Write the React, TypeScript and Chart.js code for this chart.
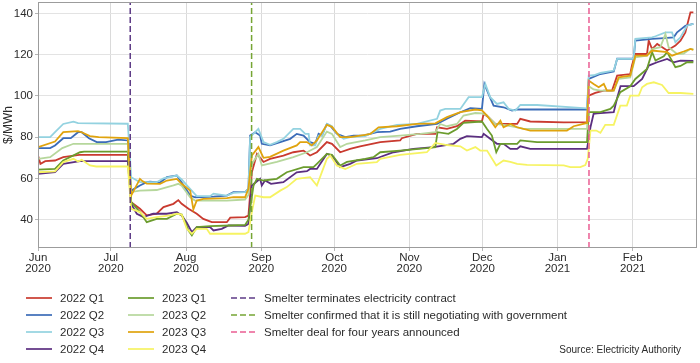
import React, { useEffect, useRef } from "react";
import { Chart, registerables } from "chart.js";

Chart.register(...registerables);

type Pt = [number, number];

// x values are days counted from 1 June 2020 (day 0)
const X_START_DATE = "2020-06-01";
const MONTH_DAYS = [0, 30, 61, 92, 122, 153, 183, 214, 245];
const MONTH_LABELS = ["Jun", "Jul", "Aug", "Sep", "Oct", "Nov", "Dec", "Jan", "Feb"];
const MONTH_YEARS = ["2020", "2020", "2020", "2020", "2020", "2020", "2020", "2021", "2021"];
const Y_TICKS = [40, 60, 80, 100, 120, 140];
const X_RANGE = [0, 271.5];
const Y_RANGE = [26.3, 145.5];
const Y_TITLE = "$/MWh";
const SOURCE_TEXT = "Source: Electricity Authority";

const SERIES_NAMES = ["2022 Q1", "2022 Q2", "2022 Q3", "2022 Q4", "2023 Q1", "2023 Q2", "2023 Q3", "2023 Q4"];
const SERIES_COLORS = ["#c93a2f", "#3b6cb8", "#93d2e0", "#5b2e80", "#6b9c2d", "#b6d79c", "#e0a30d", "#f6f362"];

const p2022Q1: Pt[] = [[0,71.1],[1,67.1],[3,68.4],[7,68.7],[10.4,70.3],[17,71.4],[37,71.4],[38.4,48.5],[42,45.3],[44.8,42.1],[48.9,42.9],[51.7,46.1],[55.8,47.7],[57.8,49.5],[59.2,47.7],[62,45.3],[65.4,42.9],[68.1,40.4],[71.6,38.8],[77.8,38.8],[79.2,41],[85.3,41.3],[86.7,42],[88.1,63],[90.2,71.9],[92.9,68],[95.6,69.5],[101.1,71.1],[105.2,72.7],[109.4,73.5],[112.1,71.1],[114.9,72.7],[119,77.6],[121.1,76.8],[124.5,72.7],[128.6,74.3],[132.7,75.6],[141,77.6],[149.2,78.4],[149.9,79.5],[156.1,81.6],[163.7,81.6],[164.4,84.8],[168.5,84],[172.6,85.3],[176,88],[182.9,87.6],[183.6,91.3],[185.6,89.7],[188.4,86.4],[197.4,86.4],[198.7,88.9],[202.8,87.6],[216.6,87.2],[226.2,87.3],[226.9,100.1],[229.6,101.5],[233.1,102.6],[236.5,102.6],[238.6,109.8],[244,110.6],[244.7,114.7],[246.1,120.3],[250.9,120.3],[251.6,126.8],[253,122.7],[255.1,125.2],[259.2,122],[262.6,124.4],[264.7,126.8],[266.7,130.8],[268.8,140.5],[270,140.5]];
const p2022Q2: Pt[] = [[0,74.7],[5,74.7],[7,76],[10.4,79.5],[13.5,79.5],[16.5,82.4],[18,82.4],[21,79.5],[24.2,77.6],[28,77.6],[33,78.8],[37,78.4],[38.4,54.1],[42,56.6],[44.8,58.2],[46.2,58.5],[50.3,58],[53.1,60.6],[57.2,61.4],[59.2,58],[62.7,51.7],[64.7,50.9],[72.3,51.2],[77.8,51.7],[80.5,53.4],[85.3,53.4],[86.7,55],[87.4,80.8],[89.5,82.4],[91.5,80.8],[92.2,76.8],[95.6,76],[99.8,77.6],[103.9,79.2],[106.6,81.6],[109.4,80.8],[112.1,77.6],[114.2,76.8],[115.6,81.6],[117,80.8],[119,86.4],[120.4,85.6],[123.1,81.6],[126.6,80],[130,80.8],[134.1,80.8],[139.6,82.4],[145.1,82.7],[149.2,84],[156.1,85.3],[164.4,86.4],[168.5,88.9],[174,92.1],[178.1,94],[182.9,93.7],[183.9,105.8],[185.6,101],[187.7,95.3],[191.8,94.5],[195.3,92.9],[197.4,93.5],[226.2,93.4],[226.9,108.2],[231.7,110.6],[237.2,111.8],[238.6,118],[245.4,118],[246.1,126.8],[253,127.6],[256.4,127.9],[261.9,128.4],[263.3,130.8],[266.7,134],[270,134.9]];
const p2022Q3: Pt[] = [[0,80],[5,80],[7,82.4],[10.4,86.4],[14.6,87.5],[16.5,86.8],[37,86.5],[38.4,60.6],[42,58.2],[48.9,58.2],[51.7,60.1],[57.2,61.4],[59.2,59.5],[62,55.8],[65.4,51.4],[70.9,51.4],[72.3,52.6],[77.8,51.7],[80.5,53],[85.3,53.4],[86.7,55],[87.4,80],[90.8,84],[92.9,77.6],[95.6,76.3],[98.4,77.6],[101.1,79.2],[105.2,84],[108,84],[110.1,81.6],[111.5,81.6],[112.1,76],[114.2,76],[115.6,80.8],[117,80.8],[119,86.4],[121.1,85.3],[123.1,81.6],[125.9,79.2],[128.6,80],[134.8,80.5],[141,84],[147.9,86],[156.1,86.4],[164.4,88.9],[165.7,92.9],[167.8,93.7],[174,93.7],[177.4,99.4],[182.9,99.4],[184.3,105.8],[186.3,99.4],[189.1,96.1],[191.8,96.9],[193.9,93.7],[196.7,92.9],[198.7,95.6],[205.6,95.6],[226.2,94],[226.9,109.8],[229,110],[231.7,111.1],[237.2,112.3],[238.6,117.9],[245.4,117.9],[246.1,127.6],[253,128.4],[254.4,128.9],[258.5,130.8],[261.2,130.8],[262.6,126],[264.7,128.4],[267.4,134],[270,134.9]];
const p2022Q4: Pt[] = [[0,62.2],[7,63],[10.4,67.1],[17.3,68.4],[37,68.4],[38.4,47.7],[40.7,42.9],[43.4,41.3],[47.5,42.9],[53.1,42.9],[57.2,43.7],[59.2,42.1],[61.3,38.5],[63.4,34],[65.4,36.4],[70.9,36.4],[72.3,34.8],[75.7,35.6],[78.5,37.2],[85.3,37],[86.7,38],[88.1,56.6],[91.5,59.8],[92.2,56.6],[93.5,59],[96,57.4],[101.1,58.2],[106.6,63],[110.8,63.5],[112.1,64.6],[114.9,64.6],[119,71.9],[121.1,71.1],[124.5,65.5],[128.6,67.1],[131.4,68.7],[139.6,69.8],[146.5,72.7],[154.7,74.3],[163,75.2],[171.2,76.8],[174,79.2],[176.7,80.5],[182.9,80],[183.6,81.6],[186.3,79.2],[189.1,76.8],[191.8,76.8],[194.6,74.3],[197.4,74.3],[198.7,75.6],[202.8,74.3],[226.2,74.3],[227.6,84.8],[228.9,91.3],[230.3,91.5],[237.2,92.1],[238.6,99],[240,104.7],[245.4,104.7],[248.9,108.2],[251.6,114.7],[255.1,116.3],[259.2,117.9],[261.9,116.3],[264.7,117.1],[270,117]];
const p2023Q1: Pt[] = [[0,64.3],[7,64.6],[10.4,68.7],[17.3,72.7],[19,73],[37,73],[38.4,48.5],[42,43.7],[44.8,38.8],[48.9,40.4],[53.1,40.4],[57.2,42.9],[59.2,42.5],[62,34.8],[63.4,32.4],[65.4,36.4],[70.9,36.9],[79.2,37.2],[85.3,37.5],[86.7,40],[88.8,56.6],[90.2,59.8],[92.9,59],[98.4,59.8],[102.5,63],[109.4,65.5],[113.5,65.5],[114.9,67.1],[119,71.9],[121.1,71.5],[124.5,66.3],[127.3,68],[134.8,69.5],[138.2,70.3],[141,72.7],[149.2,73.5],[160.2,74.7],[163.7,75.2],[164.6,82.4],[169.1,81.6],[172.6,84],[175.3,86.9],[182.9,87.6],[185,84],[187,80.8],[188.8,72.7],[190.5,76.8],[197.4,76.8],[198.7,78.4],[205.6,77.6],[226.2,77.6],[226.9,92.1],[231.7,92.1],[235.8,93.7],[237.2,95.3],[239.9,101.8],[244,104.7],[246.1,108.2],[250.9,113.1],[253,121.2],[254.4,117.1],[257.8,119.2],[259.2,121.2],[262.6,113.9],[264.7,114.5],[267.4,116.3],[270,116.3]];
const p2023Q2: Pt[] = [[0,69.5],[5,70.3],[10,74.7],[14.6,76.8],[37,76.8],[38.4,53.4],[42,54.1],[48.9,54.4],[55.8,56.6],[57.8,57.4],[59.2,56.5],[62.7,50.9],[64.7,49.3],[77.8,49.3],[85.3,49.8],[86.7,52],[88.1,67],[90.8,71.9],[92.2,66.3],[98.4,68],[105.2,70.3],[110.8,72.7],[114.9,75.2],[119,82.7],[121.1,81.6],[124.5,75.2],[127.3,76.8],[134.8,78.4],[141,80],[149.2,80.8],[157.5,81.6],[163.7,82.4],[165.7,86.4],[168.5,85.3],[172.6,86.4],[175.3,90.5],[180.2,91.7],[182.9,91.5],[185,90.5],[188.4,86.4],[191.8,86],[197.4,84.8],[200.1,84],[226.2,84],[226.9,104.7],[228.9,103.1],[231.7,102.6],[237.2,102.6],[239.2,108.2],[244,109],[246.1,118.7],[250.9,119.5],[253,122.7],[256.4,123.6],[258.5,130],[259.8,123.6],[263.3,120.3],[266,120.5],[268.8,122.8],[270,122.5]];
const p2023Q3: Pt[] = [[0,75.2],[7,77.9],[10.4,82.4],[16.5,82.9],[18,82.4],[21.4,80.5],[25,80],[37,79.5],[38.4,51.7],[42,59.8],[43,58.7],[44.8,57.5],[50.3,57.4],[53.1,59],[57.2,59.8],[59.2,57.4],[62.7,54.1],[64,45],[65.4,49.3],[68.1,50.1],[77.8,50.5],[80.5,50.9],[85.3,50.9],[86.7,55],[88.1,71.1],[90.8,75.2],[92.9,70],[95.6,70.5],[101.1,73.5],[106.6,76],[108,77.6],[110.8,77.6],[112.8,76],[114.9,78.4],[119,86],[121.1,85],[124.5,80],[128.6,80],[134.8,81.1],[136.9,81.6],[140.3,84.8],[147.9,85.3],[156.1,86.4],[163.7,86.7],[168.5,89.7],[174,92.1],[180.2,93.4],[182.9,93],[185,90.5],[188.4,84.8],[190.5,88],[191.8,84.8],[194.6,86.4],[197.4,84.8],[202.8,83.2],[217.9,83.2],[220.7,85.3],[226.2,86.9],[226.9,107.4],[228.9,105.8],[231,104.2],[233.1,105.8],[234.4,102.6],[237.2,102.6],[239.2,109],[244,109.8],[246.1,119.5],[250.9,119.5],[253,122],[259.2,121.2],[261.2,119.5],[266,121.5],[268.8,122.8],[270,122.3]];
const p2023Q4: Pt[] = [[0,63],[7,63.4],[10.4,67.9],[14.6,69.5],[16.5,68.2],[18,69],[21.4,66.3],[24,65.8],[37,65.8],[38.4,45.3],[42,43.7],[44.8,40.4],[48.9,41.3],[54.4,42.1],[57.2,42.9],[59.2,42.5],[61.3,35.6],[63.4,33.2],[65.4,35.6],[69.5,35.6],[70.9,33.2],[85.3,33.2],[86.7,34],[88.1,43.7],[89.5,51.7],[92.9,50.9],[95.6,50.9],[99.8,54.1],[102.5,55.8],[106.6,59.8],[112.1,60.6],[114.9,56.6],[119,69.5],[120.4,71.1],[123.1,66.3],[126.6,64.6],[131.4,67.1],[139.6,67.9],[141,69.5],[149.2,71.4],[160.2,72.7],[163.7,77.2],[168.5,76.2],[174,75.6],[176.7,73.5],[180.2,75.2],[182.2,73.5],[185,73.5],[188.8,66.3],[191.8,68.7],[194.6,68],[197.4,67.1],[201.5,66.6],[216.6,66.3],[219.3,65.5],[223.4,65.5],[225.5,66.5],[226.5,69.5],[227.6,83.2],[230,83.2],[231.7,82.1],[233.7,86],[237.2,86],[239.9,95.3],[242.6,95.3],[244,100.1],[247.5,100.1],[248.9,104.2],[250.9,105.8],[253.7,106.6],[257.1,105.3],[259.8,101.4],[264.7,101.4],[270,101]];

const SERIES_DATA: Pt[][] = [p2022Q1, p2022Q2, p2022Q3, p2022Q4, p2023Q1, p2023Q2, p2023Q3, p2023Q4];

// Events: 9 Jul 2020, 28 Aug 2020, 14 Jan 2021 (days after 1 June 2020)
const EVENT_DAYS = [38, 88, 227];
const EVENT_NAMES = [
  "Smelter terminates electricity contract",
  "Smelter confirmed that it is still negotiating with government",
  "Smelter deal for four years announced",
];
const EVENT_COLORS = ["#5e3b86", "#76a534", "#ea5e93"];

const FONT = "'Liberation Sans', Arial, Helvetica, sans-serif";
const TEXT_COLOR = "#2b2b2b";

const panelBorder = {
  id: "panelBorder",
  afterDatasetsDraw(chart: any) {
    const { ctx, chartArea: a } = chart;
    ctx.save();
    ctx.strokeStyle = "#9c9c9c";
    ctx.lineWidth = 1;
    ctx.strokeRect(Math.round(a.left) + 0.5, Math.round(a.top) + 0.5, Math.round(a.right - a.left) - 1, Math.round(a.bottom - a.top) - 1);
    ctx.restore();
  },
};

function KeyLine({ color, dashed, width }: { color: string; dashed?: boolean; width: number }) {
  return (
    <svg width={width} height={4} style={{ display: "block", flex: "none" }}>
      <line x1={0} y1={2} x2={width} y2={2} stroke={color} strokeWidth={1.7} strokeDasharray={dashed ? "6 3" : undefined} />
    </svg>
  );
}

export default function App() {
  const canvasRef = useRef<HTMLCanvasElement | null>(null);

  useEffect(() => {
    if (!canvasRef.current) return;
    Chart.defaults.font.family = FONT;
    const datasets: any[] = [
      ...SERIES_DATA.map((pts, i) => ({
        label: SERIES_NAMES[i],
        data: pts.map(([x, y]) => ({ x, y })),
        borderColor: SERIES_COLORS[i],
        backgroundColor: SERIES_COLORS[i],
        borderWidth: 1.8,
        pointRadius: 0,
        tension: 0,
        fill: false,
        order: 20 - i,
      })),
      ...EVENT_DAYS.map((d, i) => ({
        label: EVENT_NAMES[i],
        data: [
          { x: d, y: Y_RANGE[0] },
          { x: d, y: Y_RANGE[1] },
        ],
        borderColor: EVENT_COLORS[i],
        backgroundColor: EVENT_COLORS[i],
        borderWidth: 1.5,
        borderDash: [6, 3],
        pointRadius: 0,
        fill: false,
        order: 0,
      })),
    ];

    const chart = new Chart(canvasRef.current, {
      type: "line",
      data: { datasets },
      options: {
        responsive: false,
        animation: false,
        layout: { padding: { top: 2, right: 3, bottom: 0, left: 0 } },
        plugins: { legend: { display: false }, tooltip: { enabled: false } },
        scales: {
          x: {
            type: "linear",
            min: X_RANGE[0],
            max: X_RANGE[1],
            afterBuildTicks: (s: any) => {
              s.ticks = MONTH_DAYS.map((v) => ({ value: v }));
            },
            afterFit: (s: any) => {
              s.height = 115;
              s.paddingLeft = 0;
              s.paddingRight = 0;
            },
            ticks: {
              autoSkip: false,
              maxRotation: 0,
              padding: 1,
              color: TEXT_COLOR,
              font: { size: 11.5, lineHeight: 0.96 },
              callback: (_v: any, idx: number) => [MONTH_LABELS[idx], MONTH_YEARS[idx]],
            },
            grid: { color: "#dadada", lineWidth: 1, drawTicks: true, tickLength: 3, tickColor: "#b5b5b5" },
            border: { display: false },
          },
          y: {
            type: "linear",
            min: Y_RANGE[0],
            max: Y_RANGE[1],
            afterBuildTicks: (s: any) => {
              s.ticks = Y_TICKS.map((v) => ({ value: v }));
            },
            afterFit: (s: any) => {
              s.width = 38;
              s.paddingTop = 0;
              s.paddingBottom = 0;
            },
            ticks: {
              padding: 2,
              color: TEXT_COLOR,
              font: { size: 11.5 },
              callback: (v: any) => String(v),
            },
            grid: { color: "#e3e3e3", lineWidth: 1, drawTicks: true, tickLength: 3, tickColor: "#b5b5b5" },
            border: { display: false },
            title: {
              display: true,
              text: Y_TITLE,
              color: TEXT_COLOR,
              font: { size: 12 },
              padding: { top: 1, bottom: 0 },
            },
          },
        },
      } as any,
      plugins: [panelBorder],
    });
    return () => chart.destroy();
  }, []);

  const rowY = [298.3, 315.3, 332.3, 349.3];
  const textStyle: React.CSSProperties = {
    fontFamily: FONT,
    fontSize: "11.5px",
    color: TEXT_COLOR,
    whiteSpace: "nowrap",
    lineHeight: "14px",
  };
  const item = (left: number, row: number, keyWidth: number, color: string, label: string, dashed: boolean) => (
    <div
      key={label}
      style={{ position: "absolute", left, top: rowY[row] - 7, height: 14, display: "flex", alignItems: "center" }}
    >
      <KeyLine color={color} dashed={dashed} width={keyWidth} />
      <span style={{ ...textStyle, marginLeft: 8 }}>{label}</span>
    </div>
  );

  return (
    <div style={{ position: "fixed", left: 0, top: 0, width: 700, height: 363, background: "#ffffff", overflow: "hidden" }}>
      <canvas ref={canvasRef} width={700} height={363} style={{ position: "absolute", left: 0, top: 0, width: 700, height: 363 }} />
      {SERIES_NAMES.slice(0, 4).map((n, i) => item(26, i, 26, SERIES_COLORS[i], n, false))}
      {SERIES_NAMES.slice(4, 8).map((n, i) => item(128, i, 26, SERIES_COLORS[i + 4], n, false))}
      {EVENT_NAMES.map((n, i) => item(231, i, 25, EVENT_COLORS[i], n, true))}
      <div
        style={{
          position: "absolute",
          right: 19,
          top: 350 - 7,
          fontFamily: FONT,
          fontSize: "10px",
          lineHeight: "14px",
          color: TEXT_COLOR,
          whiteSpace: "nowrap",
        }}
      >
        {SOURCE_TEXT}
      </div>
    </div>
  );
}
